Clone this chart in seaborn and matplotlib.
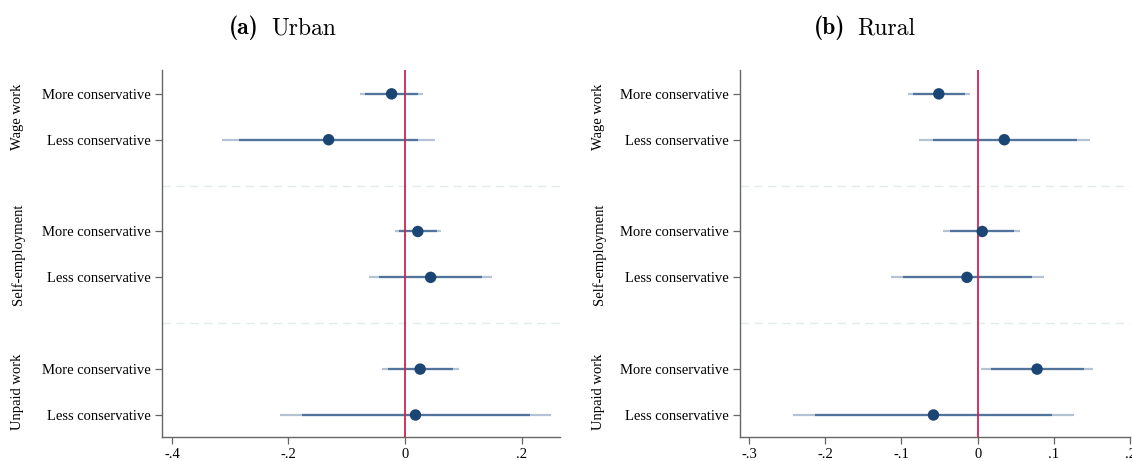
import numpy as np
import pandas as pd
import seaborn as sns
import matplotlib.pyplot as plt

# Row layout (top to bottom)
groups = ["Wage work", "Self-employment", "Unpaid work"]
rows = ["More conservative", "Less conservative"] * 3
row_group = ["Wage work", "Wage work", "Self-employment", "Self-employment",
             "Unpaid work", "Unpaid work"]

# Urban estimates, 90% and 95% intervals
urban_coef = [-0.023, -0.131, 0.022, 0.044, 0.026, 0.018]
urban_lo90 = [-0.069, -0.285, -0.010, -0.045, -0.030, -0.176]
urban_hi90 = [0.023, 0.023, 0.055, 0.133, 0.082, 0.214]
urban_lo95 = [-0.077, -0.314, -0.017, -0.062, -0.040, -0.214]
urban_hi95 = [0.031, 0.051, 0.062, 0.150, 0.092, 0.250]

# Rural estimates
rural_coef = [-0.051, 0.035, 0.006, -0.014, 0.078, -0.058]
rural_lo90 = [-0.085, -0.059, -0.036, -0.098, 0.017, -0.213]
rural_hi90 = [-0.017, 0.130, 0.048, 0.071, 0.140, 0.097]
rural_lo95 = [-0.091, -0.077, -0.045, -0.114, 0.005, -0.243]
rural_hi95 = [-0.010, 0.148, 0.056, 0.087, 0.151, 0.126]

urban_ticks = [-0.4, -0.2, 0, 0.2]
urban_ticklabels = ["-.4", "-.2", "0", ".2"]
rural_ticks = [-0.3, -0.2, -0.1, 0, 0.1, 0.2]
rural_ticklabels = ["-.3", "-.2", "-.1", "0", ".1", ".2"]

sns.set_style("white")
plt.rcParams["font.family"] = ["Liberation Serif", "DejaVu Serif"]
plt.rcParams["text.color"] = "black"
plt.rcParams["xtick.color"] = "black"
plt.rcParams["ytick.color"] = "black"

ypos = [1, 2, 4, 5, 7, 8]
sep_pos = [3, 6]
group_pos = [1.5, 4.5, 7.5]

DOT = "#1b4674"
INNER = "#52739a"
OUTER = "#b4c3d4"
ZERO = "#cf2350"
SPINE = "#666666"


def draw_panel(ax, coef, lo90, hi90, lo95, hi95, xlim, ticks, ticklabels):
    df = pd.DataFrame({"row": rows, "group": row_group, "y": ypos,
                       "coef": coef, "lo90": lo90, "hi90": hi90,
                       "lo95": lo95, "hi95": hi95})
    for s in sep_pos:
        ax.axhline(s, color="#e2ebef", lw=1, ls=(0, (6, 4)), zorder=0)
    ax.hlines(df["y"], df["lo95"], df["hi95"], color=OUTER, lw=1.6, zorder=1)
    ax.hlines(df["y"], df["lo90"], df["hi90"], color=INNER, lw=1.6, zorder=2)
    ax.axvline(0, color=ZERO, lw=1.3, zorder=3)
    sns.scatterplot(data=df, x="coef", y="y", ax=ax, color=DOT, s=68,
                    edgecolor="none", zorder=4, legend=False)
    ax.set_xlim(*xlim)
    ax.set_ylim(8.48, 0.48)
    ax.set_yticks(ypos)
    ax.set_yticklabels(rows)
    ax.set_xticks(ticks)
    ax.set_xticklabels(ticklabels)
    ax.set_xlabel("")
    ax.set_ylabel("")
    ax.tick_params(axis="both", direction="out", length=5, width=0.9,
                   color=SPINE, labelsize=10.5, pad=3, left=True, bottom=True)
    for side in ["top", "right"]:
        ax.spines[side].set_visible(False)
    for side in ["left", "bottom"]:
        ax.spines[side].set_color(SPINE)
        ax.spines[side].set_linewidth(1.0)
    for g, gy in zip(groups, group_pos):
        ax.text(-0.362, gy, g, rotation=90, ha="center", va="center",
                fontsize=10.5, transform=ax.get_yaxis_transform())


fig = plt.figure(figsize=(11.32, 4.61), dpi=100)
ax1 = fig.add_axes([162 / 1132, 1 - 437 / 461, 398 / 1132, 367 / 461])
ax2 = fig.add_axes([740 / 1132, 1 - 437 / 461, 390 / 1132, 367 / 461])

draw_panel(ax1, urban_coef, urban_lo90, urban_hi90, urban_lo95, urban_hi95,
           (-0.417, 0.266), urban_ticks, urban_ticklabels)
draw_panel(ax2, rural_coef, rural_lo90, rural_hi90, rural_lo95, rural_hi95,
           (-0.312, 0.2), rural_ticks, rural_ticklabels)

# panel titles: bold label in cmb10, name in cmr10
title_y = 1 - 28 / 461
fig.text(259 / 1132, title_y, "(a)", family="cmb10", ha="right",
         va="center", fontsize=17)
fig.text(271 / 1132, title_y, "Urban", family="cmr10", ha="left",
         va="center", fontsize=17)
fig.text(845 / 1132, title_y, "(b)", family="cmb10", ha="right",
         va="center", fontsize=17)
fig.text(857 / 1132, title_y, "Rural", family="cmr10", ha="left",
         va="center", fontsize=17)

fig.savefig("out.png", dpi=100)
